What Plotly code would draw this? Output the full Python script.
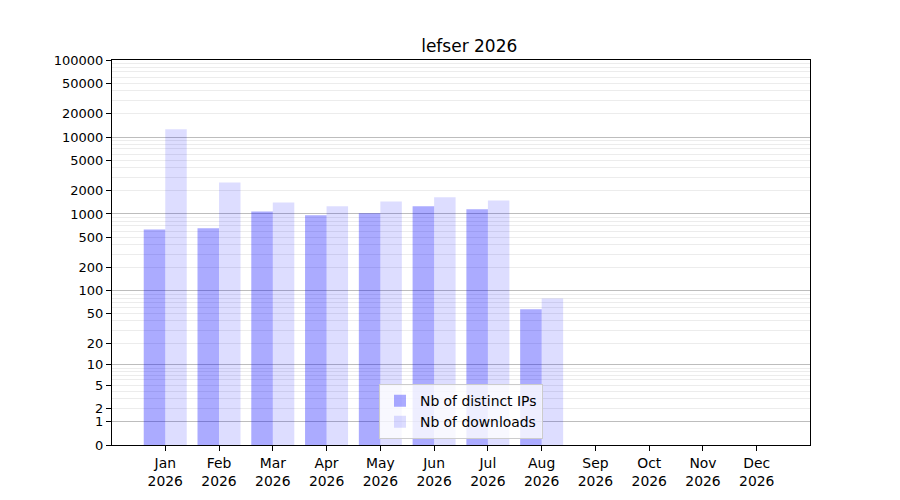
import numpy as np
import plotly.graph_objects as go

# Monthly stats
months = ['Jan', 'Feb', 'Mar', 'Apr', 'May', 'Jun', 'Jul', 'Aug', 'Sep', 'Oct', 'Nov', 'Dec']
year = '2026'
distinct_ips = [630, 650, 1080, 960, 1020, 1260, 1150, 57, 0, 0, 0, 0]
downloads = [12600, 2570, 1410, 1260, 1450, 1650, 1500, 79, 0, 0, 0, 0]
ytick_values = [0, 1, 2, 5, 10, 20, 50, 100, 200, 500, 1000, 2000, 5000, 10000, 20000, 50000, 100000]
decades = [1, 10, 100, 1000, 10000]


def scale(v):
    # log10(1 + x) scaling, like the original symlog-style axis
    return np.log10(1 + np.asarray(v, dtype=float))


x = np.arange(len(months))
xlabels = [f'{m}<br>{year}' for m in months]
minor_vals = [d * k for d in decades for k in range(2, 10) if d * k not in ytick_values]

fig = go.Figure()
fig.add_trace(go.Bar(
    x=x, y=scale(distinct_ips), name='Nb of distinct IPs',
    offset=-0.4, width=0.4, marker_color='rgba(0,0,255,0.33)', marker_line_width=0,
))
fig.add_trace(go.Bar(
    x=x, y=scale(downloads), name='Nb of downloads', yaxis='y2',
    offset=0.0, width=0.4, marker_color='rgba(0,0,255,0.135)', marker_line_width=0,
))

yrange = [0, float(scale(100000))]
font = dict(family='DejaVu Sans', size=13.9, color='black')

fig.update_layout(
    width=900, height=500,
    margin=dict(l=104, r=98, t=52, b=63),
    plot_bgcolor='white', paper_bgcolor='white',
    font=font,
    title=dict(text='lefser 2026', x=0.5125, xanchor='center', y=0.924, yanchor='middle',
               font=dict(family='DejaVu Sans', size=17, color='black')),
    showlegend=True,
    legend=dict(x=0.5, xanchor='center', y=0.015, yanchor='bottom',
                bgcolor='rgba(255,255,255,0.8)', bordercolor='#cccccc', borderwidth=1,
                font=dict(family='DejaVu Sans', size=13.9, color='black')),
    xaxis=dict(
        range=[-0.99, 11.99], tickvals=x, ticktext=xlabels,
        showgrid=False, zeroline=False,
        showline=True, linecolor='black', linewidth=1, mirror=True,
        ticks='outside', ticklen=5, tickcolor='black',
    ),
    yaxis=dict(
        range=yrange, tickvals=scale(ytick_values), ticktext=[str(v) for v in ytick_values],
        tickfont=dict(family='DejaVu Sans', size=13, color='black'),
        showgrid=True, gridcolor='#ececec', gridwidth=1, zeroline=False,
        showline=True, linecolor='black', linewidth=1, mirror=True,
        ticks='outside', ticklen=5, tickcolor='black',
        minor=dict(tickvals=scale(minor_vals), showgrid=True, gridcolor='#ececec', ticklen=0),
    ),
    yaxis2=dict(
        range=yrange, overlaying='y', side='left', anchor='x',
        tickvals=scale(decades), showticklabels=False, ticks='',
        showgrid=True, gridcolor='#bdbdbd', gridwidth=1, zeroline=False, showline=False,
    ),
)

fig.write_html('out.html')
